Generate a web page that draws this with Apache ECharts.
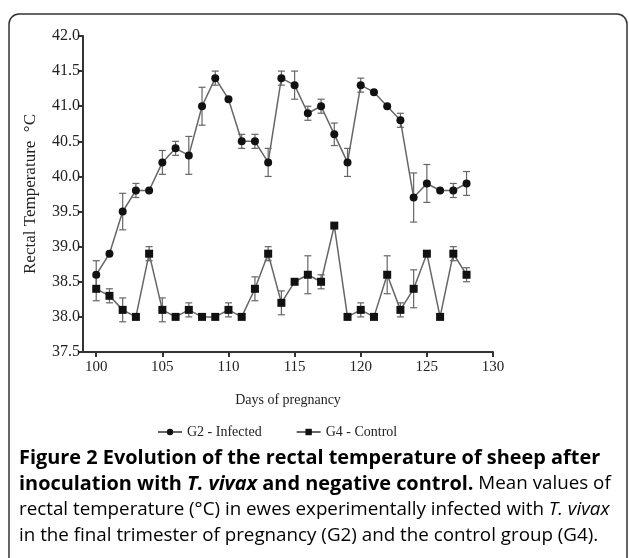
<!DOCTYPE html>
<html>
<head>
<meta charset="utf-8">
<script src="https://cdn.jsdelivr.net/npm/echarts@6/dist/echarts.min.js"></script>
<style>
  html, body { margin: 0; padding: 0; background: #fff; }
  #chart { width: 629px; height: 558px; }
</style>
</head>
<body>
<div id="chart"></div>
<script>
// days of pregnancy
const days = [100, 101, 102, 103, 104, 105, 106, 107, 108, 109, 110, 111, 112, 113, 114,
  115, 116, 117, 118, 119, 120, 121, 122, 123, 124, 125, 126, 127, 128]
// G2 - Infected, mean and error
const g2Mean = [38.6, 38.9, 39.5, 39.8, 39.8, 40.2, 40.4, 40.3, 41.0, 41.4, 41.1, 40.5, 40.5, 40.2, 41.4,
  41.3, 40.9, 41.0, 40.6, 40.2, 41.3, 41.2, 41.0, 40.8, 39.7, 39.9, 39.8, 39.8, 39.9]
const g2Err = [0.2, 0, 0.26, 0.1, 0, 0.17, 0.1, 0.27, 0.27, 0.1, 0, 0.1, 0.1, 0.2, 0.1,
  0.2, 0.1, 0.1, 0.16, 0.2, 0.1, 0, 0, 0.1, 0.35, 0.27, 0, 0.1, 0.17]
// G4 - Control, mean and error
const g4Mean = [38.4, 38.3, 38.1, 38.0, 38.9, 38.1, 38.0, 38.1, 38.0, 38.0, 38.1, 38.0, 38.4, 38.9, 38.2,
  38.5, 38.6, 38.5, 39.3, 38.0, 38.1, 38.0, 38.6, 38.1, 38.4, 38.9, 38.0, 38.9, 38.6]
const g4Err = [0.17, 0.1, 0.17, 0, 0.1, 0.17, 0, 0.1, 0, 0, 0.1, 0, 0.17, 0.1, 0.17,
  0, 0.27, 0.1, 0, 0, 0.1, 0, 0.27, 0.1, 0.27, 0, 0, 0.1, 0.1]
const xTicks = [100, 105, 110, 115, 120, 125, 130]

const myChart = echarts.init(document.getElementById('chart'))
window.onresize = function () {
    myChart.resize()
}

//误差线
const errorBars = (mean, err) => ({
    type: 'custom',
    silent: true,
    z: 1,
    data: days.map((d, i) => [d, mean[i] - err[i], mean[i] + err[i]]),
    renderItem: (params, api) => {
        if (api.value(2) - api.value(1) < 0.001) return null
        const lo = api.coord([api.value(0), api.value(1)])
        const hi = api.coord([api.value(0), api.value(2)])
        const w = 3.5
        const style = { stroke: '#666', lineWidth: 1.2 }
        return {
            type: 'group',
            children: [
                { type: 'line', shape: { x1: lo[0], y1: lo[1], x2: hi[0], y2: hi[1] }, style },
                { type: 'line', shape: { x1: lo[0] - w, y1: lo[1], x2: lo[0] + w, y2: lo[1] }, style },
                { type: 'line', shape: { x1: hi[0] - w, y1: hi[1], x2: hi[0] + w, y2: hi[1] }, style }
            ]
        }
    }
})

const serif = 'Liberation Serif'
const sans = 'Open Sans'

myChart.setOption({
    animation: false,
    textStyle: { fontFamily: serif },
    grid: { left: 83, right: 136, top: 36, bottom: 206 },
    legend: {
        top: 420,
        left: 152,
        itemGap: 34,
        itemWidth: 24,
        itemHeight: 8,
        textStyle: { fontFamily: serif, fontSize: 14, color: '#222' },
        data: ['G2 - Infected', 'G4 - Control']
    },
    xAxis: {
        type: 'value',
        min: 99,
        max: 130,
        name: 'Days of pregnancy',
        nameLocation: 'middle',
        nameGap: 41,
        nameTextStyle: { fontFamily: serif, fontSize: 14, color: '#222' },
        splitLine: { show: false },
        axisLine: { show: true, lineStyle: { color: '#333', width: 2 } },
        axisTick: { show: true, length: 5, lineStyle: { color: '#333', width: 2 }, customValues: xTicks },
        axisLabel: {
            customValues: xTicks,
            color: '#222',
            fontSize: 15,
            margin: 8
        }
    },
    yAxis: {
        type: 'value',
        min: 37.5,
        max: 42,
        interval: 0.5,
        name: 'Rectal Temperature  °C',
        nameLocation: 'middle',
        nameGap: 44,
        nameTextStyle: { fontFamily: serif, fontSize: 17, color: '#222' },
        splitLine: { show: false },
        axisLine: { show: true, lineStyle: { color: '#333', width: 2 } },
        axisTick: { show: true, length: 5, lineStyle: { color: '#333', width: 2 } },
        axisLabel: {
            formatter: (v) => v.toFixed(1),
            color: '#222',
            fontSize: 16,
            margin: 3
        }
    },
    series: [
        errorBars(g2Mean, g2Err),
        errorBars(g4Mean, g4Err),
        {
            name: 'G2 - Infected',
            type: 'line',
            data: days.map((d, i) => [d, g2Mean[i]]),
            symbol: 'circle',
            symbolSize: 8,
            z: 3,
            lineStyle: { color: '#666', width: 1.5 },
            itemStyle: { color: '#111' }
        },
        {
            name: 'G4 - Control',
            type: 'line',
            data: days.map((d, i) => [d, g4Mean[i]]),
            symbol: 'rect',
            symbolSize: 8,
            z: 3,
            lineStyle: { color: '#666', width: 1.5 },
            itemStyle: { color: '#111' }
        }
    ],
    graphic: [
        {
            type: 'rect',
            silent: true,
            shape: { x: 9, y: 14, width: 618, height: 600, r: 10 },
            style: { fill: 'none', stroke: '#333', lineWidth: 1.5 }
        },
        {
            type: 'text',
            left: 19,
            top: 445,
            style: {
                text: '{b|Figure 2 Evolution of the rectal temperature of sheep after}\n' +
                    '{b|inoculation with }{bi|T. vivax}{b| and negative control.}{n| Mean values of}\n' +
                    '{n|rectal temperature (°C) in ewes experimentally infected with }{i|T. vivax}\n' +
                    '{n|in the final trimester of pregnancy (G2) and the control group (G4).}',
                lineHeight: 26,
                rich: {
                    b: { fontFamily: sans, fontWeight: 'bold', fontSize: 19.9, color: '#222', lineHeight: 26 },
                    bi: { fontFamily: sans, fontWeight: 'bold', fontStyle: 'italic', fontSize: 19.9, color: '#222', lineHeight: 26 },
                    n: { fontFamily: sans, fontSize: 18.8, color: '#333', lineHeight: 26 },
                    i: { fontFamily: sans, fontStyle: 'italic', fontSize: 18.8, color: '#333', lineHeight: 26 }
                }
            }
        }
    ]
})
</script>
</body>
</html>
